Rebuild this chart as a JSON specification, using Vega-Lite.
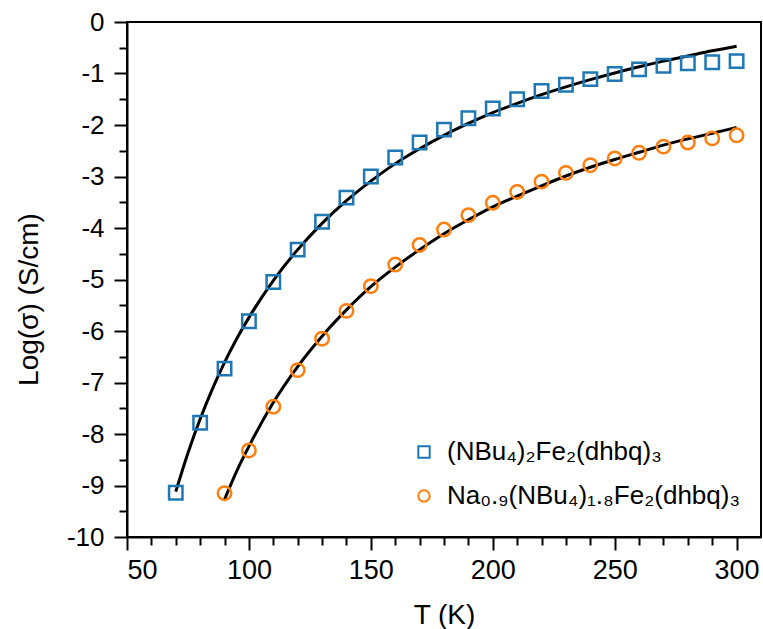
{
  "$schema": "https://vega.github.io/schema/vega-lite/v6.json",
  "autosize": {"type": "none"},
  "padding": {"left": 127, "top": 22, "right": 2, "bottom": 92},
  "width": 634,
  "height": 515,
  "config": {
    "font": "Liberation Sans",
    "view": {"stroke": "black", "strokeWidth": 2},
    "axis": {"grid": false, "domainColor": "black", "domainWidth": 2, "tickColor": "black", "tickWidth": 2, "labelColor": "black", "titleColor": "black", "labelFont": "Liberation Sans", "titleFont": "Liberation Sans", "titleFontWeight": "normal"},
    "legend": {"labelFont": "Liberation Sans", "labelFontSize": 26, "labelColor": "black", "symbolStrokeWidth": 2, "symbolSize": 130, "rowPadding": 18, "labelOffset": 10, "labelLimit": 400}
  },
  "datasets": {
    "points": [
      {"T": 70, "logS": -9.14, "compound": "(NBu₄)₂Fe₂(dhbq)₃"},
      {"T": 80, "logS": -7.78, "compound": "(NBu₄)₂Fe₂(dhbq)₃"},
      {"T": 90, "logS": -6.73, "compound": "(NBu₄)₂Fe₂(dhbq)₃"},
      {"T": 100, "logS": -5.81, "compound": "(NBu₄)₂Fe₂(dhbq)₃"},
      {"T": 110, "logS": -5.05, "compound": "(NBu₄)₂Fe₂(dhbq)₃"},
      {"T": 120, "logS": -4.42, "compound": "(NBu₄)₂Fe₂(dhbq)₃"},
      {"T": 130, "logS": -3.88, "compound": "(NBu₄)₂Fe₂(dhbq)₃"},
      {"T": 140, "logS": -3.41, "compound": "(NBu₄)₂Fe₂(dhbq)₃"},
      {"T": 150, "logS": -3.00, "compound": "(NBu₄)₂Fe₂(dhbq)₃"},
      {"T": 160, "logS": -2.63, "compound": "(NBu₄)₂Fe₂(dhbq)₃"},
      {"T": 170, "logS": -2.34, "compound": "(NBu₄)₂Fe₂(dhbq)₃"},
      {"T": 180, "logS": -2.09, "compound": "(NBu₄)₂Fe₂(dhbq)₃"},
      {"T": 190, "logS": -1.87, "compound": "(NBu₄)₂Fe₂(dhbq)₃"},
      {"T": 200, "logS": -1.68, "compound": "(NBu₄)₂Fe₂(dhbq)₃"},
      {"T": 210, "logS": -1.50, "compound": "(NBu₄)₂Fe₂(dhbq)₃"},
      {"T": 220, "logS": -1.34, "compound": "(NBu₄)₂Fe₂(dhbq)₃"},
      {"T": 230, "logS": -1.22, "compound": "(NBu₄)₂Fe₂(dhbq)₃"},
      {"T": 240, "logS": -1.11, "compound": "(NBu₄)₂Fe₂(dhbq)₃"},
      {"T": 250, "logS": -1.01, "compound": "(NBu₄)₂Fe₂(dhbq)₃"},
      {"T": 260, "logS": -0.92, "compound": "(NBu₄)₂Fe₂(dhbq)₃"},
      {"T": 270, "logS": -0.85, "compound": "(NBu₄)₂Fe₂(dhbq)₃"},
      {"T": 280, "logS": -0.80, "compound": "(NBu₄)₂Fe₂(dhbq)₃"},
      {"T": 290, "logS": -0.78, "compound": "(NBu₄)₂Fe₂(dhbq)₃"},
      {"T": 300, "logS": -0.76, "compound": "(NBu₄)₂Fe₂(dhbq)₃"},
      {"T": 90, "logS": -9.15, "compound": "Na₀.₉(NBu₄)₁.₈Fe₂(dhbq)₃"},
      {"T": 100, "logS": -8.32, "compound": "Na₀.₉(NBu₄)₁.₈Fe₂(dhbq)₃"},
      {"T": 110, "logS": -7.47, "compound": "Na₀.₉(NBu₄)₁.₈Fe₂(dhbq)₃"},
      {"T": 120, "logS": -6.76, "compound": "Na₀.₉(NBu₄)₁.₈Fe₂(dhbq)₃"},
      {"T": 130, "logS": -6.15, "compound": "Na₀.₉(NBu₄)₁.₈Fe₂(dhbq)₃"},
      {"T": 140, "logS": -5.61, "compound": "Na₀.₉(NBu₄)₁.₈Fe₂(dhbq)₃"},
      {"T": 150, "logS": -5.13, "compound": "Na₀.₉(NBu₄)₁.₈Fe₂(dhbq)₃"},
      {"T": 160, "logS": -4.71, "compound": "Na₀.₉(NBu₄)₁.₈Fe₂(dhbq)₃"},
      {"T": 170, "logS": -4.33, "compound": "Na₀.₉(NBu₄)₁.₈Fe₂(dhbq)₃"},
      {"T": 180, "logS": -4.03, "compound": "Na₀.₉(NBu₄)₁.₈Fe₂(dhbq)₃"},
      {"T": 190, "logS": -3.75, "compound": "Na₀.₉(NBu₄)₁.₈Fe₂(dhbq)₃"},
      {"T": 200, "logS": -3.51, "compound": "Na₀.₉(NBu₄)₁.₈Fe₂(dhbq)₃"},
      {"T": 210, "logS": -3.30, "compound": "Na₀.₉(NBu₄)₁.₈Fe₂(dhbq)₃"},
      {"T": 220, "logS": -3.10, "compound": "Na₀.₉(NBu₄)₁.₈Fe₂(dhbq)₃"},
      {"T": 230, "logS": -2.93, "compound": "Na₀.₉(NBu₄)₁.₈Fe₂(dhbq)₃"},
      {"T": 240, "logS": -2.78, "compound": "Na₀.₉(NBu₄)₁.₈Fe₂(dhbq)₃"},
      {"T": 250, "logS": -2.65, "compound": "Na₀.₉(NBu₄)₁.₈Fe₂(dhbq)₃"},
      {"T": 260, "logS": -2.54, "compound": "Na₀.₉(NBu₄)₁.₈Fe₂(dhbq)₃"},
      {"T": 270, "logS": -2.42, "compound": "Na₀.₉(NBu₄)₁.₈Fe₂(dhbq)₃"},
      {"T": 280, "logS": -2.34, "compound": "Na₀.₉(NBu₄)₁.₈Fe₂(dhbq)₃"},
      {"T": 290, "logS": -2.26, "compound": "Na₀.₉(NBu₄)₁.₈Fe₂(dhbq)₃"},
      {"T": 300, "logS": -2.20, "compound": "Na₀.₉(NBu₄)₁.₈Fe₂(dhbq)₃"}
    ],
    "fits": [
      {"T": 70, "logS": -9.12, "fit": "A"},
      {"T": 75, "logS": -8.37, "fit": "A"},
      {"T": 80, "logS": -7.71, "fit": "A"},
      {"T": 85, "logS": -7.13, "fit": "A"},
      {"T": 90, "logS": -6.61, "fit": "A"},
      {"T": 95, "logS": -6.15, "fit": "A"},
      {"T": 100, "logS": -5.74, "fit": "A"},
      {"T": 110, "logS": -5.02, "fit": "A"},
      {"T": 120, "logS": -4.42, "fit": "A"},
      {"T": 130, "logS": -3.91, "fit": "A"},
      {"T": 140, "logS": -3.47, "fit": "A"},
      {"T": 150, "logS": -3.09, "fit": "A"},
      {"T": 160, "logS": -2.75, "fit": "A"},
      {"T": 170, "logS": -2.46, "fit": "A"},
      {"T": 180, "logS": -2.20, "fit": "A"},
      {"T": 190, "logS": -1.97, "fit": "A"},
      {"T": 200, "logS": -1.76, "fit": "A"},
      {"T": 210, "logS": -1.58, "fit": "A"},
      {"T": 220, "logS": -1.41, "fit": "A"},
      {"T": 230, "logS": -1.26, "fit": "A"},
      {"T": 240, "logS": -1.12, "fit": "A"},
      {"T": 250, "logS": -0.99, "fit": "A"},
      {"T": 260, "logS": -0.87, "fit": "A"},
      {"T": 270, "logS": -0.76, "fit": "A"},
      {"T": 280, "logS": -0.66, "fit": "A"},
      {"T": 290, "logS": -0.56, "fit": "A"},
      {"T": 300, "logS": -0.47, "fit": "A"},
      {"T": 90, "logS": -9.27, "fit": "B"},
      {"T": 95, "logS": -8.72, "fit": "B"},
      {"T": 100, "logS": -8.24, "fit": "B"},
      {"T": 110, "logS": -7.39, "fit": "B"},
      {"T": 120, "logS": -6.69, "fit": "B"},
      {"T": 130, "logS": -6.10, "fit": "B"},
      {"T": 140, "logS": -5.59, "fit": "B"},
      {"T": 150, "logS": -5.14, "fit": "B"},
      {"T": 160, "logS": -4.76, "fit": "B"},
      {"T": 170, "logS": -4.42, "fit": "B"},
      {"T": 180, "logS": -4.11, "fit": "B"},
      {"T": 190, "logS": -3.84, "fit": "B"},
      {"T": 200, "logS": -3.59, "fit": "B"},
      {"T": 210, "logS": -3.38, "fit": "B"},
      {"T": 220, "logS": -3.18, "fit": "B"},
      {"T": 230, "logS": -2.99, "fit": "B"},
      {"T": 240, "logS": -2.82, "fit": "B"},
      {"T": 250, "logS": -2.67, "fit": "B"},
      {"T": 260, "logS": -2.53, "fit": "B"},
      {"T": 270, "logS": -2.39, "fit": "B"},
      {"T": 280, "logS": -2.27, "fit": "B"},
      {"T": 290, "logS": -2.16, "fit": "B"},
      {"T": 300, "logS": -2.05, "fit": "B"}
    ]
  },
  "encoding": {
    "x": {
      "field": "T", "type": "quantitative",
      "scale": {"domain": [50, 310], "nice": false, "zero": false},
      "axis": {
        "title": "T (K)", "titleFontSize": 28, "titlePadding": 18,
        "values": [50,60,70,80,90,100,110,120,130,140,150,160,170,180,190,200,210,220,230,240,250,260,270,280,290,300],
        "labelExpr": "datum.value % 50 === 0 ? '' + datum.value : ''",
        "labelFontSize": 27, "labelPadding": 7,
        "tickSize": {"condition": {"test": "datum.value % 50 === 0", "value": 13}, "value": 8}
      }
    },
    "y": {
      "field": "logS", "type": "quantitative",
      "scale": {"domain": [-10, 0], "nice": false, "zero": false},
      "axis": {
        "title": "Log(σ)  (S/cm)", "titleFontSize": 28, "titleX": -84, "titleY": 277,
        "values": [-10,-9.5,-9,-8.5,-8,-7.5,-7,-6.5,-6,-5.5,-5,-4.5,-4,-3.5,-3,-2.5,-2,-1.5,-1,-0.5,0],
        "labelExpr": "datum.value % 1 === 0 ? '' + datum.value : ''",
        "labelFontSize": 26, "labelPadding": 10,
        "tickSize": {"condition": {"test": "datum.value % 1 === 0", "value": 13}, "value": 8}
      }
    }
  },
  "layer": [
    {
      "data": {"name": "fits"},
      "mark": {"type": "line", "color": "black", "strokeWidth": 3, "interpolate": "monotone"},
      "encoding": {"detail": {"field": "fit"}}
    },
    {
      "data": {"name": "points"},
      "mark": {"type": "point", "filled": false, "strokeWidth": 2.5, "size": 180, "opacity": 1},
      "encoding": {
        "color": {
          "field": "compound", "type": "nominal",
          "scale": {"domain": ["(NBu₄)₂Fe₂(dhbq)₃", "Na₀.₉(NBu₄)₁.₈Fe₂(dhbq)₃"], "range": ["#1f77b4", "#ff7f0e"]},
          "legend": {"title": null, "orient": "none", "legendX": 284, "legendY": 417}
        },
        "shape": {
          "field": "compound", "type": "nominal",
          "scale": {"domain": ["(NBu₄)₂Fe₂(dhbq)₃", "Na₀.₉(NBu₄)₁.₈Fe₂(dhbq)₃"], "range": ["square", "circle"]},
          "legend": {"title": null, "orient": "none", "legendX": 284, "legendY": 417}
        }
      }
    }
  ]
}
